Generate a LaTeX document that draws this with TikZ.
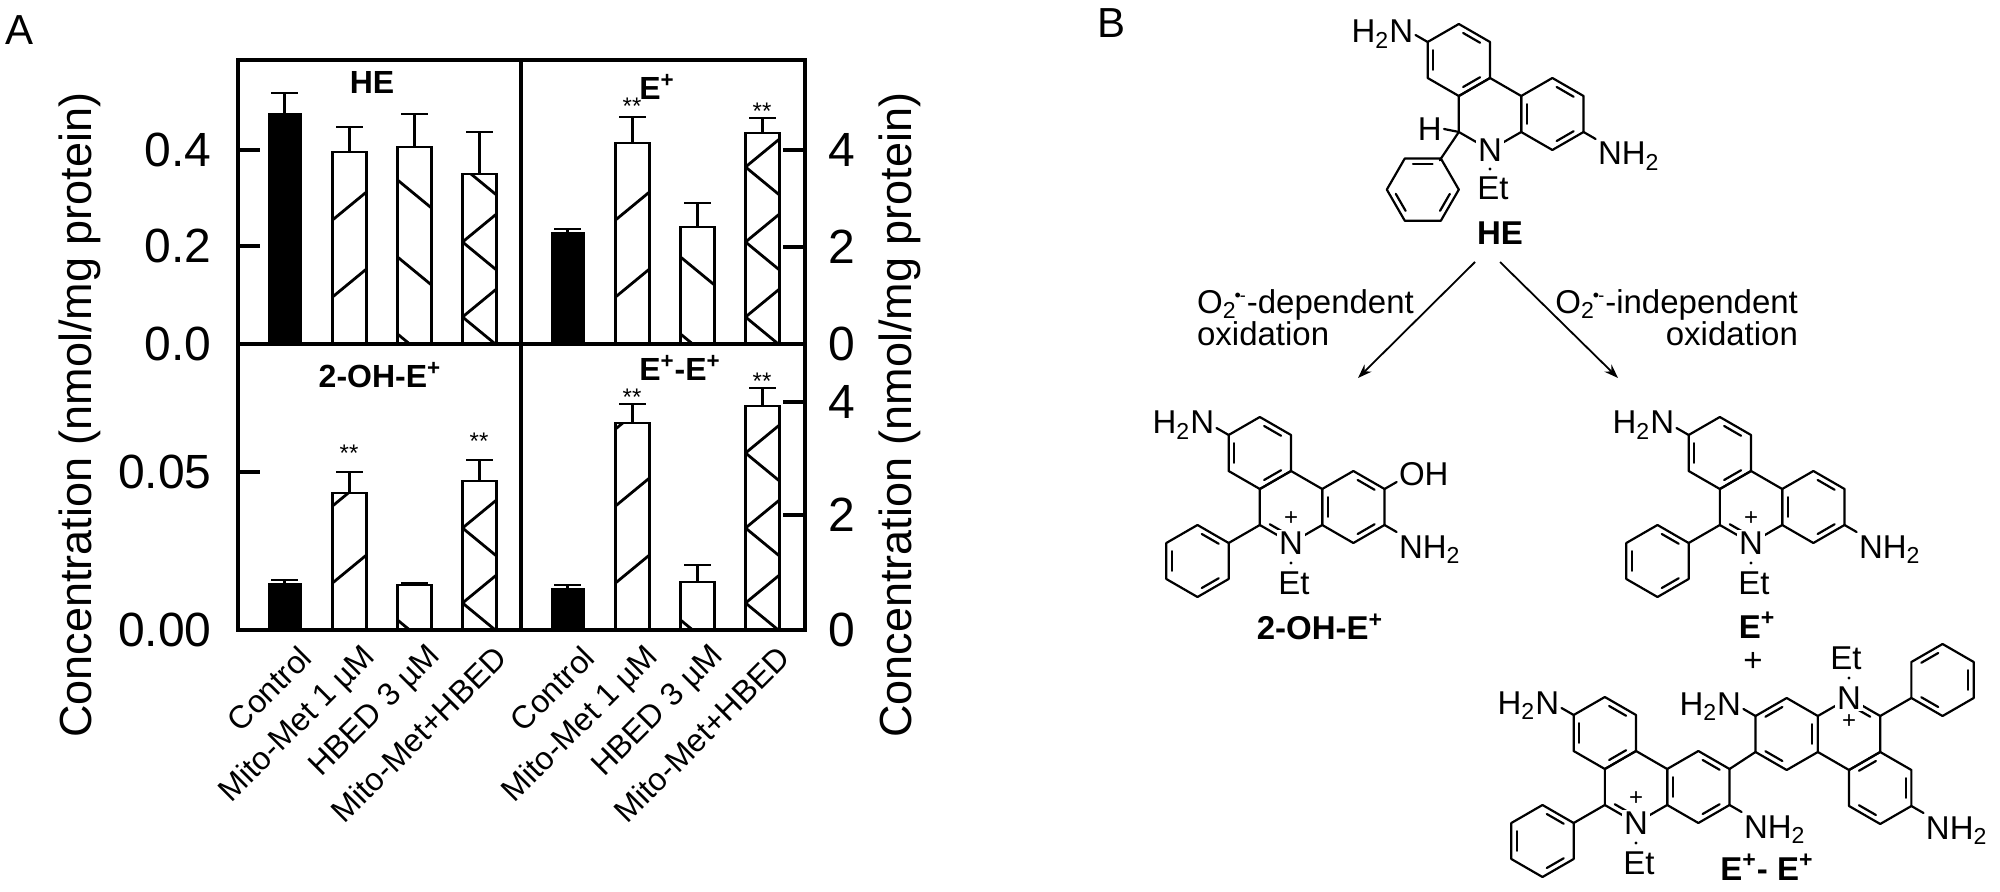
\documentclass[tikz,border=0pt]{standalone}
\usepackage{fontspec}
\setmainfont{Liberation Sans}
\usetikzlibrary{arrows.meta}

\newcommand\bl{36}
\newcommand\chemfont{\fontsize{16.5}{18}\selectfont}
\newcommand\radan{\textsuperscript{\kern-1pt\fontsize{9}{9}\selectfont•\kern-0.5pt-}}

% hexagon outline: center, angle of first corner
\newcommand\hexring[2]{%
  \begin{scope}[shift={#1}]
    \draw[bond] ({#2}:\bl) -- ({#2+60}:\bl) -- ({#2+120}:\bl) -- ({#2+180}:\bl)
      -- ({#2+240}:\bl) -- ({#2+300}:\bl) -- cycle;
  \end{scope}}
% inner lines of double bonds
\newcommand\hexdbl[3]{%
  \begin{scope}[shift={#1}]
    \foreach \k in {#3}
      \draw[bond] ({#2+60*\k+9}:{0.76*\bl}) -- ({#2+60*\k+51}:{0.76*\bl});
  \end{scope}}

% ethidium skeleton, origin at centre of the N ring
\newcommand\ethcore[1]{%
  \hexring{(-31.18,-54)}{30}\hexdbl{(-31.18,-54)}{30}{0,2,4}
  \hexring{(0,0)}{30}\hexdbl{(0,0)}{30}{1}
  \hexring{(62.35,0)}{30}\hexdbl{(62.35,0)}{30}{0,2,4}
  \draw[bond] (-31.18,18) -- (-62.35,36);
  \hexring{(-93.53,54)}{30}\hexdbl{(-93.53,54)}{30}{0,2,4}
  \draw[bond] (-62.35,-72) -- (-74.5,-79) coordinate (#1-a);
  \draw[bond] (93.53,18) -- (105.6,25) coordinate (#1-c);
  \coordinate (#1-o) at (93.53,-18);
  \node[atom] (#1-n) at (0,36) {N};
  \node[charge] at (0,12) {+};
  \fill (0,56) circle[radius=1.7];
  \node[lab] at (3,76) {Et};
}

% bar: x, base, top, error, pattern (0 solid, 1 /, 2 \, 3 both)
\newcommand\chartbar[5]{%
  \pgfmathsetmacro\xl{#1-17}\pgfmathsetmacro\xr{#1+17}
  \ifnum#5=0
    \fill (\xl,#2) rectangle (\xr,#3);
  \else
    \begin{scope}
      \clip (\xl,#2) rectangle (\xr,#3);
      \ifnum#5=1 \foreach \k in {0,...,5} \draw[barline] (\xl,{#2+30-77*\k}) -- ++(34,-28); \fi
      \ifnum#5=2 \foreach \k in {0,...,5} \draw[barline] (\xl,{#2-10-77*\k}) -- ++(34,28); \fi
      \ifnum#5=3 \foreach \k in {0,...,5} \draw[barline] (\xr,{#2+20-75*\k}) -- ++(-34,28) -- ++(34,28); \fi
    \end{scope}
    \draw[barline] (\xl,#2) rectangle (\xr,#3);
  \fi
  \draw[barline] (#1,#3) -- (#1,#4) ({#1-13.5},#4) -- ({#1+13.5},#4);
}

\tikzset{
  bond/.style={line width=1.1pt, line cap=round, line join=round},
  frame/.style={line width=1.6pt},
  barline/.style={line width=1.4pt},
  atom/.style={font=\chemfont, fill=white, inner sep=1pt},
  lab/.style={font=\chemfont, inner sep=1pt},
  charge/.style={font=\fontsize{12}{12}\selectfont, inner sep=0pt},
  ticklab/.style={font=\fontsize{24}{26}\selectfont, inner sep=1pt},
  axlab/.style={font=\fontsize{22.5}{24}\selectfont, rotate=90},
  grp/.style={font=\fontsize{16}{18}\selectfont, rotate=45, anchor=east, inner sep=0pt},
  ttl/.style={font=\fontsize{16}{18}\selectfont\bfseries},
  star/.style={font=\fontsize{12}{12}\selectfont},
  rxn/.style={-{Stealth[length=7pt,width=5pt]}, line width=0.9pt},
}

\begin{document}
\begin{tikzpicture}[x=0.5pt, y=-0.5pt]
  \useasboundingbox (0,0) rectangle (2000,892);

  % ---- panel A
  \node[font=\fontsize{21}{22}\selectfont] (pa) at (20,30) {A};
  \draw[frame] (238,60) rectangle (805,630);
  \draw[frame] (521,60) -- (521,630) (238,344) -- (805,344);
  \foreach \y in {150,246,472} \draw[frame] (238,\y) -- (260,\y);
  \foreach \y in {150,247,402,515} \draw[frame] (805,\y) -- (783,\y);
  \foreach \y/\t in {150/0.4,246/0.2,344/0.0,472/0.05,630/0.00}
    \node[ticklab, anchor=east] at (214,\y) {\t};
  \foreach \y/\t in {150/4,247/2,344/0,402/4,515/2,630/0}
    \node[ticklab, anchor=west] at (826,\y) {\t};
  \node[axlab] (yl) at (80,415) {Concentration (nmol/mg protein)};
  \node[axlab] (yr) at (900,415) {Concentration (nmol/mg protein)};

  % HE
  \chartbar{284.5}{344}{113}{93}{0}
  \chartbar{349.5}{344}{152}{127}{1}
  \chartbar{414.5}{344}{147}{114}{2}
  \chartbar{479.5}{344}{174}{132}{3}
  % E+
  \chartbar{567.5}{344}{232}{229}{0}
  \chartbar{632.5}{344}{143}{117}{1}
  \chartbar{697.5}{344}{227}{203}{2}
  \chartbar{762.5}{344}{133}{118}{3}
  % 2-OH-E+
  \chartbar{284.5}{630}{583}{580}{0}
  \chartbar{349.5}{630}{493}{472}{1}
  \chartbar{414.5}{630}{585}{583}{2}
  \chartbar{479.5}{630}{481}{460}{3}
  % E+-E+
  \chartbar{567.5}{630}{588}{585}{0}
  \chartbar{632.5}{630}{423}{404}{1}
  \chartbar{697.5}{630}{582}{565}{2}
  \chartbar{762.5}{630}{406}{388}{3}

  \node[ttl] (t1) at (372,82) {HE};
  \node[ttl] (t2) at (657,87) {E\textsuperscript{+}};
  \node[ttl] (t3) at (380,375) {2-OH-E\textsuperscript{+}};
  \node[ttl] (t4) at (680,368) {E\textsuperscript{+}-E\textsuperscript{+}};
  \foreach \x/\y in {632/106,762/111,349/453,479/441,632/397,762/381}
    \node[star] at (\x,\y) {**};

  \foreach \x in {0,283} {
    \node[grp] at (306+\x,652) {Control};
    \node[grp] at (371+\x,652) {Mito-Met 1 µM};
    \node[grp] at (436+\x,652) {HBED 3 µM};
    \node[grp] at (501+\x,652) {Mito-Met+HBED};
  }

  % ---- panel B
  \node[font=\fontsize{21}{22}\selectfont] (pb) at (1111,23) {B};

  % HE
  \begin{scope}[shift={(1490,114)}]
    \hexring{(-31.18,-54)}{30}\hexdbl{(-31.18,-54)}{30}{0,2,4}
    \hexring{(0,0)}{30}
    \hexring{(62.35,0)}{30}\hexdbl{(62.35,0)}{30}{0,2,4}
    \draw[bond] (-62.35,-72) -- (-74.5,-79) coordinate (he-a);
    \draw[bond] (93.53,18) -- (105.6,25) coordinate (he-c);
    \draw[bond] (-31.18,18) -- (-46,15) coordinate (he-h);
    \draw[bond] (-31.18,18) -- (-50.2,46.2);
    \hexring{(-67.2,75.6)}{0}\hexdbl{(-67.2,75.6)}{0}{0,2,4}
    \node[atom] (he-n) at (0,36) {N};
    \fill (0,55) circle[radius=1.7];
    \node[lab] at (3,74) {Et};
  \end{scope}
  \node[lab, anchor=base east, yshift=-4pt] at (he-a) {H\textsubscript{2}N};
  \node[lab, anchor=base west, yshift=-13pt] at (he-c) {NH\textsubscript{2}};
  \node[lab, anchor=east] at (he-h) {H};
  \node[ttl, font=\fontsize{16.5}{18}\selectfont\bfseries] (he) at (1500,233) {HE};

  % arrows
  \coordinate (hel) at (1475,262);
  \coordinate (her) at (1500,262);
  \coordinate (ohtip) at (1358,378);
  \coordinate (etip) at (1618,378);
  \draw[rxn] (hel) -- (ohtip);
  \draw[rxn] (her) -- (etip);
  \node[anchor=west, align=left, font=\fontsize{16.5}{16}\selectfont] (dep) at (1190,318)
    {O\textsubscript{2}\radan-dependent\\oxidation};
  \node[anchor=east, align=right, font=\fontsize{16.5}{16}\selectfont] (indep) at (1805,318)
    {O\textsubscript{2}\radan-independent\\oxidation};

  % 2-OH-E+
  \begin{scope}[shift={(1291,507)}]
    \ethcore{oh}
  \end{scope}
  \draw[bond] (oh-o) -- ++(12.1,-7) coordinate (oh-oh);
  \node[lab, anchor=base east, yshift=-3pt] at (oh-a) {H\textsubscript{2}N};
  \node[lab, anchor=base west, yshift=-13pt] at (oh-c) {NH\textsubscript{2}};
  \node[lab, anchor=base west, yshift=-2pt] at (oh-oh) {OH};
  \node[ttl, font=\fontsize{16.5}{18}\selectfont\bfseries] (ohe) at (1320,627) {2-OH-E\textsuperscript{+}};

  % E+
  \begin{scope}[shift={(1751,507)}]
    \ethcore{e}
  \end{scope}
  \node[lab, anchor=base east, yshift=-3pt] at (e-a) {H\textsubscript{2}N};
  \node[lab, anchor=base west, yshift=-13pt] at (e-c) {NH\textsubscript{2}};
  \node[ttl, font=\fontsize{16.5}{18}\selectfont\bfseries] (ee) at (1757,625) {E\textsuperscript{+}};
  \node[lab] (plus) at (1753,662) {+};

  % E+-E+
  \begin{scope}[shift={(1636,787)}]
    \ethcore{dl}
  \end{scope}
  \begin{scope}[shift={(1849,734)}, rotate=180]
    \ethcore{dr}
  \end{scope}
  \draw[bond] (dl-o) -- (dr-o);
  \node[lab, anchor=base east, yshift=-3pt] at (dl-a) {H\textsubscript{2}N};
  \node[lab, anchor=base west, yshift=-13pt] at (dl-c) {NH\textsubscript{2}};
  \node[lab, anchor=base east, yshift=-3pt] at (dr-c) {H\textsubscript{2}N};
  \node[lab, anchor=base west, yshift=-13pt] at (dr-a) {NH\textsubscript{2}};
  \node[ttl, font=\fontsize{16.5}{18}\selectfont\bfseries] (ee2) at (1767,867) {E\textsuperscript{+}- E\textsuperscript{+}};
\end{tikzpicture}
\end{document}
